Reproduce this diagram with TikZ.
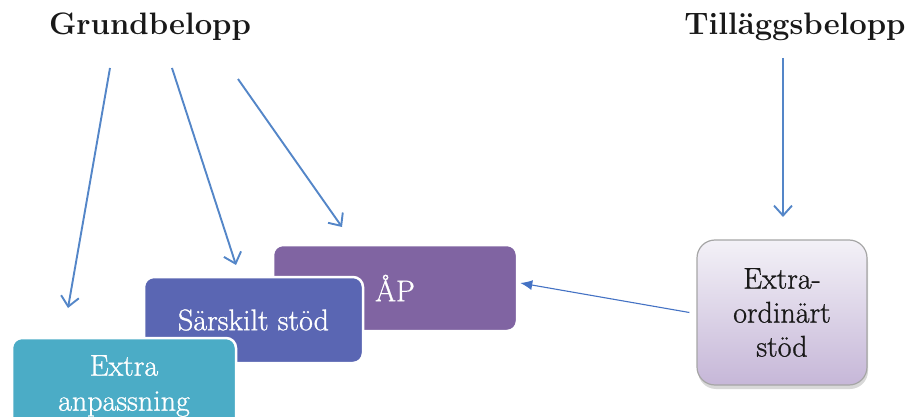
\documentclass[tikz,border=0pt]{standalone}
\usepackage{fontspec}
\newfontfamily\boxfont{Latin Modern Roman}[FakeBold=0.9]
\newfontfamily\headfont{Latin Modern Roman}[BoldFont={Latin Modern Roman/B},BoldFeatures={FakeBold=0.8}]
\usetikzlibrary{arrows.meta,shadows}
\definecolor{arrowblue}{RGB}{84,134,200}
\definecolor{tipblue}{RGB}{68,114,196}
\definecolor{aquabox}{RGB}{75,172,198}
\definecolor{indigobox}{RGB}{90,102,179}
\definecolor{plumbox}{RGB}{128,100,162}
\definecolor{lavtop}{RGB}{243,241,247}
\definecolor{lavbot}{RGB}{198,183,216}
\definecolor{txtdark}{RGB}{25,25,25}
\begin{document}
\begin{tikzpicture}[x=1pt,y=-1pt,
  heading/.style={font=\fontsize{31}{35}\selectfont\bfseries, text=txtdark, anchor=base, inner sep=0pt},
  colbox/.style={rounded corners=10pt, draw=white, line width=2.5pt, text=white,
    font=\boxfont\fontsize{30}{35}\selectfont, align=center, inner sep=0pt},
  grarrow/.style={draw=arrowblue, line width=1.9pt, -{Straight Barb[length=10pt,width=18pt]}},
  extbox/.style={rounded corners=18pt, draw=black!35, line width=1.2pt,
    top color=lavtop, bottom color=lavbot, text=txtdark,
    drop shadow={opacity=0.3, shadow xshift=1pt, shadow yshift=-4pt},
    font=\boxfont\fontsize{30}{34}\selectfont, align=center, inner sep=0pt},
  ]
\useasboundingbox (0,0) rectangle (916,417);
\clip (0,0) rectangle (916,417);
\fill[white] (0,0) rectangle (916,417);

% headings
\node[heading] (grund) at (150,35) {Grundbelopp};
\node[heading] (tillagg) at (795,35) {Tilläggsbelopp};

% stacked boxes (back to front)
\node[colbox, fill=plumbox, minimum width=244pt, minimum height=86pt] (ap) at (395,288) {ÅP};
\node[colbox, fill=indigobox, minimum width=219pt, minimum height=86pt] (sar) at (253.5,320) {Särskilt stöd};
\node[colbox, fill=aquabox, minimum width=224pt, minimum height=96pt] (ea) at (124,386) {Extra\\anpassning};

% extraordinary support box
\node[extbox, minimum width=170pt, minimum height=145pt] (ext) at (782,312.5) {Extra-\\ordinärt\\stöd};

% arrow start/end coordinates
\coordinate (g1s) at (110,68);
\coordinate (g1e) at (68,308);
\coordinate (g2s) at (172,68);
\coordinate (g2e) at (236,265);
\coordinate (g3s) at (238,79);
\coordinate (g3e) at (342,227);
\coordinate (t1s) at (783,58);
\coordinate (t1e) at (783,217);

\draw[grarrow] (g1s) -- (g1e);
\draw[grarrow] (g2s) -- (g2e);
\draw[grarrow] (g3s) -- (g3e);
\draw[grarrow] (t1s) -- (t1e);

\draw[draw=tipblue, line width=1.1pt, -{Latex[length=12pt,width=10pt]}]
  ([xshift=-7pt]ext.west) -- ([xshift=2pt,yshift=5pt]ap.east);
\end{tikzpicture}
\end{document}
